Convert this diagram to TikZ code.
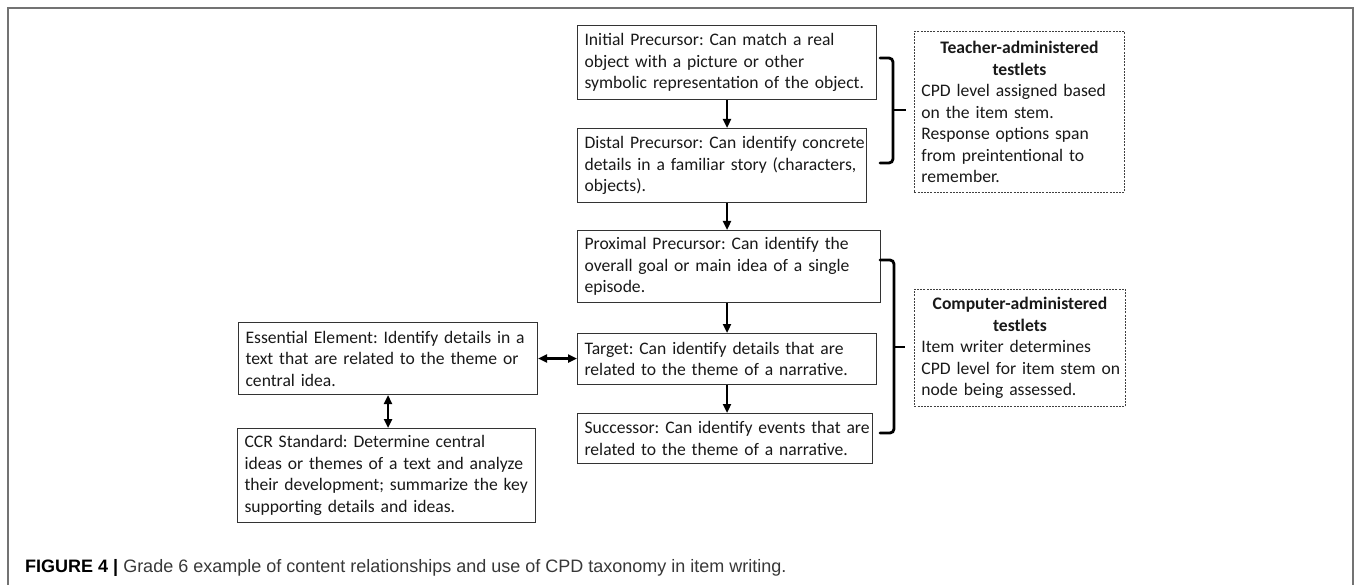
\documentclass[tikz,border=0pt]{standalone}
\usepackage{fontspec}
\usetikzlibrary{arrows.meta,calc}
\newfontfamily\carlitofam{Carlito}
\newfontfamily\capfam{Liberation Sans}
\newcommand\bxfont{\carlitofam\fontsize{17.6pt}{21.5pt}\selectfont\frenchspacing\hfuzz=200pt\hbadness=10000}
\newcommand\capfont{\capfam\fontsize{18pt}{22pt}\selectfont}
\newcommand\bl[1]{\mbox{#1}}
\newcommand\bc[1]{\makebox[\linewidth][c]{\bfseries #1}}
\begin{document}
\begin{tikzpicture}[x=1pt,y=-1pt,
  box/.style={draw=black!80, line width=1.1pt, anchor=north west, align=left,
     inner xsep=7pt, inner ysep=2pt, font=\bxfont, text=black!90},
  dbox/.style={box, draw=black!75, line width=0.9pt, dash pattern=on 2pt off 1.2pt},
  arr/.style={line width=2.2pt, -{Triangle[length=9pt,width=8pt]}},
  darr/.style={line width=2.2pt, {Triangle[length=9pt,width=8pt]}-{Triangle[length=9pt,width=8pt]}},
  brace/.style={line width=2.8pt, rounded corners=4pt, line cap=round},
  frameline/.style={draw=black!55, line width=2pt}
]
\useasboundingbox (0,0) rectangle (1354,585);
% frame
\draw[frameline] (8,585) -- (8,8) -- (1353,8) -- (1353,585);

% boxes
\node[box, text width=285pt, minimum height=74pt] (init) at (577,25)
  {\bl{Initial Precursor: Can match a real}\\\bl{object with a picture or other}\\\bl{symbolic representation of the object.}};
\node[box, text width=275pt, minimum height=74pt] (dist) at (577,128)
  {\bl{Distal Precursor: Can identify concrete}\\\bl{details in a familiar story (characters,}\\\bl{objects).}};
\node[box, text width=289pt, minimum height=72pt] (prox) at (577,230)
  {\bl{Proximal Precursor: Can identify the}\\\bl{overall goal or main idea of a single}\\\bl{episode.}};
\node[box, text width=285pt, minimum height=51pt] (tgt) at (577,333)
  {\bl{Target: Can identify details that are}\\\bl{related to the theme of a narrative.}};
\node[box, text width=281pt, minimum height=50pt] (succ) at (577,413)
  {\bl{Successor: Can identify events that are}\\\bl{related to the theme of a narrative.}};
\node[box, text width=285pt, minimum height=72pt] (ess) at (238,322)
  {\bl{Essential Element: Identify details in a}\\\bl{text that are related to the theme or}\\\bl{central idea.}};
\node[box, text width=284pt, minimum height=94pt] (ccr) at (237,428)
  {\bl{CCR Standard: Determine central}\\\bl{ideas or themes of a text and analyze}\\\bl{their development; summarize the key}\\\bl{supporting details and ideas.}};

\node[dbox, text width=196pt, minimum height=161pt] (teach) at (914,31)
  {\bc{Teacher-administered}\\\bc{testlets}\\\bl{CPD level assigned based}\\\bl{on the item stem.}\\\bl{Response options span}\\\bl{from preintentional to}\\\bl{remember.}};
\node[dbox, text width=197pt, minimum height=117pt] (comp) at (914,289)
  {\bc{Computer-administered}\\\bc{testlets}\\\bl{Item writer determines}\\\bl{CPD level for item stem on}\\\bl{node being assessed.}};

% arrows
\coordinate (ax) at (727,0);
\draw[arr] (init.south -| ax) -- (dist.north -| ax);
\draw[arr] (dist.south -| ax) -- (prox.north -| ax);
\draw[arr] (prox.south -| ax) -- (tgt.north -| ax);
\draw[arr] (tgt.south -| ax) -- (succ.north -| ax);
\draw[darr] (ess.east) -- (ess.east -| tgt.west);
\draw[darr] (ess.south) -- (ess.south |- ccr.north);

% brackets
\coordinate (b1a) at (880,58);
\coordinate (b1b) at (880,163);
\coordinate (b1m) at (893,110);
\draw[brace] (b1a) -- (893,58) -- (893,163) -- (b1b);
\draw[line width=2.8pt] (b1m) -- ($(b1m -| teach.west)+(-8,0)$);
\coordinate (b2a) at (880,260);
\coordinate (b2b) at (880,433);
\coordinate (b2m) at (894,347);
\draw[brace] (b2a) -- (894,260) -- (894,433) -- (b2b);
\draw[line width=2.8pt] (b2m) -- ($(b2m -| comp.west)+(-9,0)$);

% caption
\node[anchor=base west, inner sep=0pt, font=\capfont] (cap) at (25,572)
  {\textbf{FIGURE 4 |} \textcolor{black!78}{Grade 6 example of content relationships and use of CPD taxonomy in item writing.}};
\end{tikzpicture}
\end{document}
